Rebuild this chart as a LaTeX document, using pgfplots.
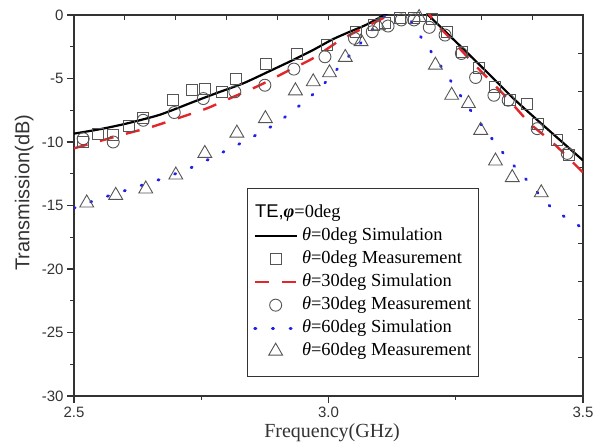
\documentclass[border=0pt]{standalone}
\usepackage{fontspec}
\setmainfont{Liberation Serif}
\setsansfont{Liberation Sans}
\usepackage{pgfplots}
\pgfplotsset{compat=1.18}
\definecolor{mk}{HTML}{555555}
\definecolor{myred}{HTML}{E3262A}
\definecolor{myblue}{HTML}{2020E6}
\definecolor{ax}{HTML}{333333}
\begin{document}
\begin{tikzpicture}
% top / right ticks
\begin{axis}[scale only axis, width=509pt, height=381pt,
  xmin=2.5, xmax=3.5, ymin=-30, ymax=0,
  axis line style={ax, line width=1.3pt},
  xtick={2.6,2.7,2.8,2.9,3.0,3.1,3.2,3.3,3.4}, ytick={-27,-24,-21,-18,-15,-12,-9,-6,-3},
  xtick pos=top, ytick pos=right, tick align=inside,
  major tick length=5pt,
  every tick/.style={ax, line width=1.1pt},
  xticklabels={}, yticklabels={}]
\end{axis}
\begin{axis}[name=main, scale only axis, width=509pt, height=381pt,
  xmin=2.5, xmax=3.5, ymin=-30, ymax=0,
  axis line style={ax, line width=1.3pt},
  xtick={2.5,3.0,3.5}, minor xtick={2.75,3.25},
  ytick={-30,-25,-20,-15,-10,-5,0}, minor ytick={-27.5,-22.5,-17.5,-12.5,-7.5,-2.5},
  xtick pos=bottom, ytick pos=left, tick align=outside,
  major tick length=7pt, minor tick length=4pt,
  every tick/.style={ax, line width=1.2pt},
  ticklabel style={font=\fontsize{15}{18}\sffamily, text=ax},
  /pgf/number format/assume math mode=true,
  xticklabel style={/pgf/number format/.cd, fixed, fixed zerofill, precision=1},
  xlabel={Frequency(GHz)},
  xlabel style={font=\fontsize{20}{24}\selectfont, text=ax, at={(axis description cs:0.507,-0.097)}, anchor=center},
  ylabel={Transmission(dB)},
  ylabel style={font=\fontsize{20}{24}\sffamily, text=ax, at={(axis description cs:-0.098,0.534)}, anchor=center},
  legend image code/.code={\draw[mark repeat=2,mark phase=2,#1] plot coordinates {(0pt,0pt) (21pt,0pt) (42pt,0pt)};},
  legend cell align=left,
  legend style={at={(axis description cs:0.34,0.546)}, anchor=north west,
    draw=ax, fill=white,
    font=\fontsize{18.4}{22}\selectfont,
    inner xsep=6pt, inner ysep=15pt, row sep=3pt, column sep=3pt,
    nodes={inner sep=1pt, text height=13.5pt, text depth=4.5pt}},
  ]
\addlegendimage{empty legend}
\addlegendentry{\hspace{-47pt}{\sffamily TE,}\textbf{\textit{φ}}=0deg}

\addplot[black, line width=2.2pt, smooth, tension=0.4] coordinates {
(2.5,-9.34) (2.55,-9.0) (2.603,-8.55) (2.669,-7.85) (2.734,-6.85) (2.78,-6.15)
(2.832,-5.39) (2.88,-4.5) (2.93,-3.55) (2.97,-2.75) (3.008,-1.92) (3.04,-1.35)
(3.073,-0.79) (3.11,0) (3.13,0.4) (3.17,0.4) (3.195,0) (3.21,-0.55) (3.23,-1.32)
(3.30,-4.05) (3.367,-6.71) (3.433,-9.08) (3.5,-11.45)};
\addlegendentry{\textit{θ}=0deg Simulation}

\addplot[only marks, mark=square, mark size=5.5pt, mark options={draw=mk, line width=0.9pt, fill=none}] coordinates {
(2.518,-10.0) (2.548,-9.34) (2.577,-9.47) (2.607,-8.76) (2.636,-8.08) (2.695,-6.66)
(2.731,-5.92) (2.757,-5.79) (2.790,-6.05) (2.819,-5.0) (2.878,-3.82) (2.938,-3.03)
(2.997,-2.37) (3.054,-1.32) (3.090,-0.79) (3.110,-0.6) (3.140,-0.2) (3.168,-0.2)
(3.204,-0.35) (3.233,-1.32) (3.262,-2.9) (3.296,-4.2) (3.327,-5.7) (3.356,-6.7)
(3.389,-7.0) (3.412,-8.55) (3.448,-9.87) (3.472,-11.05)};
\addlegendentry{\textit{θ}=0deg Measurement}

\addplot[myred, line width=2.4pt, dash pattern=on 14pt off 13pt, smooth, tension=0.4] coordinates {
(2.5,-10.5) (2.544,-10.0) (2.603,-9.34) (2.652,-8.82) (2.704,-8.13) (2.76,-7.37)
(2.81,-6.5) (2.865,-5.53) (2.917,-4.47) (2.969,-3.42) (3.021,-2.03) (3.05,-1.4)
(3.08,-0.79) (3.113,-0.13) (3.125,0.3) (3.19,0.3) (3.21,-0.7) (3.233,-1.58)
(3.291,-4.08) (3.35,-6.5) (3.396,-8.55) (3.442,-10.1) (3.5,-12.4)};
\addlegendentry{\textit{θ}=30deg Simulation}

\addplot[only marks, mark=o, mark size=6pt, mark options={draw=mk, line width=0.9pt, fill=none}] coordinates {
(2.518,-9.74) (2.577,-10.0) (2.636,-8.29) (2.697,-7.68) (2.754,-6.58) (2.816,-6.05)
(2.875,-5.53) (2.932,-4.26) (2.993,-3.29) (3.051,-1.84) (3.086,-1.32) (3.117,-0.87)
(3.143,-0.39) (3.168,-0.39) (3.198,-0.97) (3.229,-1.58) (3.261,-3.03) (3.289,-4.92)
(3.325,-6.32) (3.353,-6.71) (3.410,-8.95) (3.469,-10.9)};
\addlegendentry{\textit{θ}=30deg Measurement}

\addplot[myblue, line width=2.8pt, line cap=round, dash pattern=on 1.2pt off 16.5pt, smooth, tension=0.4] coordinates {
(2.5,-15.2) (2.548,-14.5) (2.61,-13.7) (2.672,-12.9) (2.737,-11.9) (2.8,-10.65)
(2.832,-10.0) (2.897,-8.55) (2.96,-6.58) (2.995,-5.26) (3.021,-4.08) (3.051,-2.76)
(3.08,-1.45) (3.106,-0.26) (3.125,0.3) (3.15,0.3) (3.172,-1.18) (3.195,-2.5)
(3.237,-5.0) (3.279,-7.5) (3.328,-10.1) (3.354,-11.4) (3.383,-12.7) (3.411,-14.0)
(3.442,-15.3) (3.5,-16.8)};
\addlegendentry{\textit{θ}=60deg Simulation}

\addplot[only marks, mark=triangle, mark size=8pt, mark options={draw=mk, line width=0.9pt, fill=none}] coordinates {
(2.525,-14.8) (2.582,-14.2) (2.641,-13.7) (2.700,-12.6) (2.757,-10.9) (2.820,-9.3)
(2.876,-8.16) (2.935,-5.97) (2.970,-5.26) (3.002,-4.55) (3.033,-3.34) (3.064,-2.1)
(3.098,-0.85) (3.178,-0.2) (3.210,-3.95) (3.242,-6.32) (3.275,-6.97) (3.299,-9.08)
(3.328,-11.5) (3.361,-12.8) (3.418,-14.0)};
\addlegendentry{\textit{θ}=60deg Measurement}
\end{axis}
\pgfresetboundingbox
\path ([shift={(-74pt,-50pt)}]main.south west) rectangle ([shift={(13pt,15pt)}]main.north east);
\end{tikzpicture}
\end{document}
